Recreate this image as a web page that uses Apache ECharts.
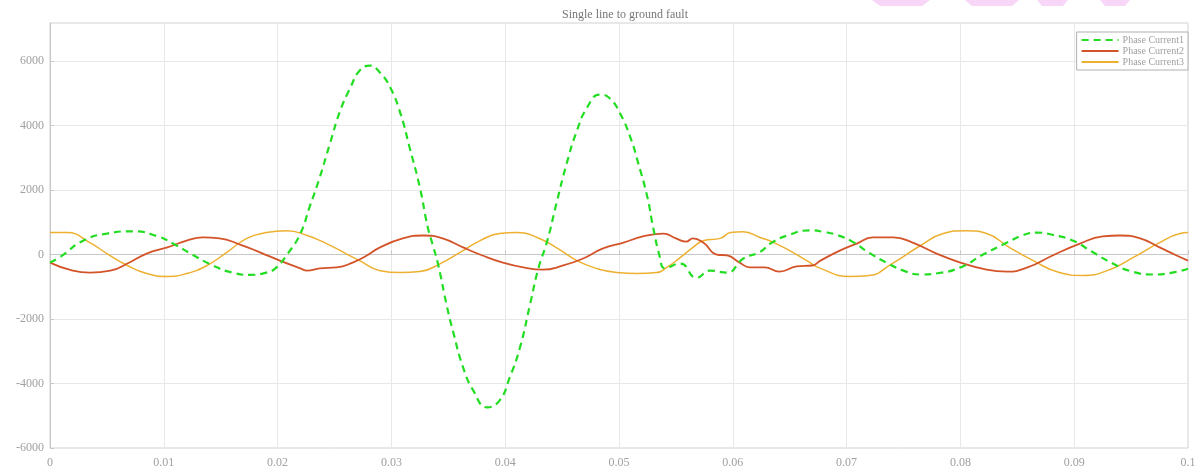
<!DOCTYPE html>
<html>
<head>
<meta charset="utf-8">
<script src="https://cdn.jsdelivr.net/npm/echarts@6/dist/echarts.min.js"></script>
<style>
html,body{margin:0;padding:0;background:#fff;}
#chart{width:1195px;height:472px;}
</style>
</head>
<body>
<div id="chart"></div>
<script>
// ---- data (time in s, current in A) ----
var titleText = 'Single line to ground fault';
var seriesNames = ['Phase Current1', 'Phase Current2', 'Phase Current3'];
var xTicks = [0, 0.01, 0.02, 0.03, 0.04, 0.05, 0.06, 0.07, 0.08, 0.09, 0.1];
var yTicks = [-6000, -4000, -2000, 0, 2000, 4000, 6000];

var phase1 = [
  [0,-250],[0.001,-50],[0.0029,430],[0.005,650],[0.0073,720],[0.0095,560],[0.0108,340],
  [0.0125,0],[0.0143,-340],[0.016,-560],[0.0176,-630],[0.019,-560],[0.0198,-430],
  [0.0209,30],[0.022,650],[0.0228,1460],[0.0237,2390],[0.0246,3440],[0.0255,4460],
  [0.0264,5180],[0.0272,5700],[0.0281,5860],[0.029,5640],[0.0299,5180],[0.0308,4370],
  [0.0316,3320],[0.0325,2080],[0.0332,840],[0.0337,220],[0.0341,-300],[0.0349,-1640],
  [0.0354,-2360],[0.0363,-3500],[0.0372,-4220],[0.0384,-4740],[0.0395,-4530],
  [0.0404,-3810],[0.0413,-2880],[0.0422,-1520],[0.0429,-450],[0.0437,430],[0.0445,1580],
  [0.0454,2820],[0.0463,3840],[0.0472,4560],[0.0483,4960],[0.0492,4840],[0.0501,4370],
  [0.051,3630],[0.0517,2820],[0.0525,1770],[0.053,840],[0.0536,-90],[0.054,-420],
  [0.0554,-280],[0.0568,-720],[0.058,-500],[0.0595,-560],[0.0609,-130],[0.0624,80],
  [0.0633,340],[0.0648,590],[0.0668,750],[0.068,700],[0.0692,600],[0.0705,400],
  [0.072,50],[0.0735,-250],[0.075,-500],[0.0765,-620],[0.078,-580],[0.08,-400],
  [0.082,0],[0.0841,370],[0.0855,600],[0.0867,680],[0.088,620],[0.0899,430],
  [0.0915,100],[0.0934,-280],[0.095,-520],[0.0969,-620],[0.0985,-570],[0.1,-440]
];

var phase2 = [
  [0,-250],[0.002,-500],[0.0035,-560],[0.0053,-500],[0.0068,-280],[0.0085,30],
  [0.0103,220],[0.012,430],[0.0134,530],[0.0149,500],[0.0167,310],[0.0185,60],
  [0.0202,-190],[0.022,-430],[0.0226,-500],[0.0237,-430],[0.0252,-400],[0.0266,-250],
  [0.0278,-40],[0.029,220],[0.031,500],[0.0328,590],[0.0345,500],[0.0363,220],
  [0.038,-30],[0.0398,-250],[0.0416,-400],[0.0433,-470],[0.0451,-340],[0.0468,-130],
  [0.0486,190],[0.0504,370],[0.0521,560],[0.0539,650],[0.055,500],[0.0559,400],
  [0.0565,500],[0.0574,370],[0.0586,0],[0.0595,-30],[0.0606,-250],[0.0615,-400],
  [0.0628,-400],[0.0641,-530],[0.0656,-370],[0.067,-340],[0.0677,-190],[0.0694,120],
  [0.0709,340],[0.0723,530],[0.0741,530],[0.0758,370],[0.0779,30],[0.08,-250],
  [0.0823,-470],[0.0841,-530],[0.0859,-400],[0.0881,-30],[0.0905,340],[0.0925,560],
  [0.094,590],[0.0958,500],[0.0975,220],[0.099,-30],[0.1,-190]
];

var phase3 = [
  [0,680],[0.0015,680],[0.0035,370],[0.005,30],[0.0068,-340],[0.0085,-590],[0.0103,-680],
  [0.012,-590],[0.0138,-340],[0.0155,60],[0.0173,500],[0.019,680],[0.0208,740],
  [0.0226,590],[0.0243,340],[0.026,30],[0.0272,-190],[0.029,-500],[0.0308,-560],
  [0.0325,-530],[0.0343,-280],[0.036,60],[0.0378,430],[0.0395,650],[0.041,680],
  [0.0428,530],[0.0446,190],[0.0463,-190],[0.048,-430],[0.0498,-560],[0.0516,-590],
  [0.0533,-560],[0.0542,-400],[0.0554,-90],[0.0565,220],[0.0574,430],[0.0589,500],
  [0.0598,680],[0.0609,710],[0.0624,530],[0.0636,370],[0.065,120],[0.0665,-190],
  [0.0677,-430],[0.0703,-680],[0.072,-650],[0.074,-280],[0.0765,280],[0.0785,650],
  [0.0805,740],[0.0823,650],[0.0843,220],[0.0864,-190],[0.0887,-560],[0.0908,-650],
  [0.0929,-500],[0.0952,-90],[0.0975,370],[0.0993,650],[0.1,680]
];

var colors = ['#22dd22', '#d4542a', '#edb030'];
var serif = '"Liberation Serif","DejaVu Serif",serif';

var chart = echarts.init(document.getElementById('chart'), null, {renderer: 'canvas'});
var option = {
  backgroundColor: '#ffffff',
  animation: false,
  title: {
    text: titleText,
    left: 620, top: 4, textAlign: 'center',
    textStyle: {fontFamily: serif, fontSize: 12, fontWeight: 'normal', color: '#777'}
  },
  legend: {
    data: seriesNames,
    orient: 'vertical',
    right: 7, top: 32,
    itemWidth: 37, itemHeight: 9, itemGap: 1,
    padding: [3, 4, 3, 4],
    borderColor: '#b0b0b0', borderWidth: 1, backgroundColor: '#fff',
    itemStyle: {color: 'rgba(0,0,0,0)', borderColor: 'rgba(0,0,0,0)', borderWidth: 0},
    textStyle: {fontFamily: serif, fontSize: 10, color: '#a0a0a0', padding: [0,0,0,-1]}
  },
  grid: {
    left: 50, right: 7, top: 23, bottom: 24,
    outerBoundsMode: 'none', containLabel: false,
    show: true, borderColor: '#d0d0d0', borderWidth: 1
  },
  xAxis: {
    type: 'value', min: 0, max: 0.1, interval: 0.01,
    axisLine: {show: true, lineStyle: {color: '#c8c8c8'}},
    axisTick: {show: true, inside: true, length: 4, lineStyle: {color: '#c8c8c8'}},
    axisLabel: {fontFamily: serif, fontSize: 12, color: '#a0a0a0', margin: 9,
      formatter: function (v) { return xTicks.indexOf(Math.round(v*100)/100) >= 0 ? String(Math.round(v*100)/100) : ''; }},
    splitLine: {show: true, lineStyle: {color: '#e8e8e8'}}
  },
  yAxis: {
    type: 'value', min: -6000, max: 7180, interval: 2000,
    axisLine: {show: true, lineStyle: {color: '#c8c8c8'}},
    axisTick: {show: true, inside: true, length: 4, lineStyle: {color: '#c8c8c8'}},
    axisLabel: {fontFamily: serif, fontSize: 12, color: '#a0a0a0', margin: 6, showMaxLabel: false,
      formatter: function (v) { return yTicks.indexOf(v) >= 0 ? String(v) : ''; }},
    splitLine: {show: true, lineStyle: {color: '#e8e8e8'}}
  },
  graphic: [
    {type: 'polygon', shape: {points: [[872,0],[930,0],[922,6],[880,6]]}, style: {fill: '#f8d6f8'}},
    {type: 'polygon', shape: {points: [[965,0],[1019,0],[1012,6],[972,6]]}, style: {fill: '#f8d6f8'}},
    {type: 'polygon', shape: {points: [[1037,0],[1068,0],[1063,6],[1042,6]]}, style: {fill: '#f8d6f8'}},
    {type: 'polygon', shape: {points: [[1100,0],[1130,0],[1125,6],[1105,6]]}, style: {fill: '#f8d6f8'}}
  ],
  series: [
    {name: seriesNames[0], type: 'line', data: phase1, smooth: 0.5, symbol: 'none',
     z: 5, lineStyle: {color: colors[0], width: 2.2, type: [7, 5]}, itemStyle: {color: colors[0]}},
    {name: seriesNames[1], type: 'line', data: phase2, smooth: 0.5, symbol: 'none',
     z: 4, lineStyle: {color: colors[1], width: 1.8}, itemStyle: {color: colors[1]}},
    {name: seriesNames[2], type: 'line', data: phase3, smooth: 0.5, symbol: 'none',
     z: 3, lineStyle: {color: colors[2], width: 1.5}, itemStyle: {color: colors[2]}}
  ]
};
chart.setOption(option);
</script>
</body>
</html>
